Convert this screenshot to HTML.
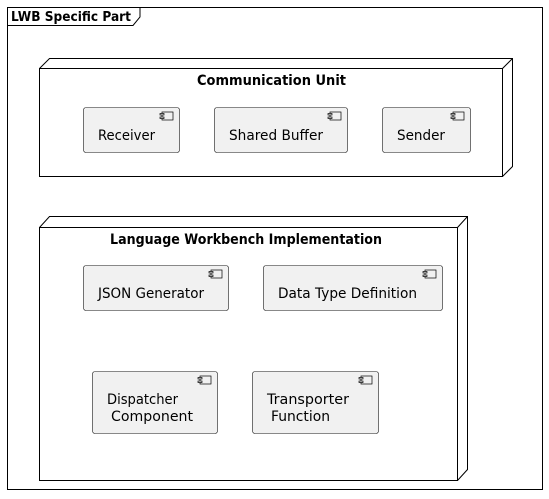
<!DOCTYPE html>
<html><head><style>body{margin:0;background:#fff}</style></head><body>
<svg width="549" height="494" xmlns="http://www.w3.org/2000/svg" font-family="'DejaVu Sans','Liberation Sans',sans-serif">
<defs>
<g id="ic"><rect x="0" y="0" width="11" height="8" fill="#f1f1f1" stroke="#000" stroke-width="0.7"/><rect x="-2" y="1.5" width="4" height="1.5" fill="#f1f1f1" stroke="#000" stroke-width="0.7"/><rect x="-2" y="5" width="4" height="1.5" fill="#f1f1f1" stroke="#000" stroke-width="0.7"/></g>
</defs>
<rect x="7.5" y="7.5" width="535" height="482" fill="none" stroke="#000" stroke-width="1"/>
<path d="M7.5 25.5 H133 L140 17 V7.5" fill="none" stroke="#000"/>
<text x="11" y="21" font-size="13" font-weight="bold" textLength="120" lengthAdjust="spacingAndGlyphs">LWB Specific Part</text>

<path d="M39.5 68.5 L49.5 58.5 H512.5 V166.5 L502.5 176.5 M502.5 68.5 L512.5 58.5" fill="#fff" stroke="#000"/>
<rect x="39.5" y="68.5" width="463" height="108" fill="#fff" stroke="#000"/>
<text x="197" y="85" font-size="14" font-weight="bold" textLength="149" lengthAdjust="spacingAndGlyphs">Communication Unit</text>

<path d="M39.5 227.5 L49.5 216.5 H467.5 V469.5 L457.5 480.5 M457.5 227.5 L467.5 216.5" fill="#fff" stroke="#000"/>
<rect x="39.5" y="227.5" width="418" height="253" fill="#fff" stroke="#000"/>
<text x="110" y="244" font-size="14" font-weight="bold" textLength="272" lengthAdjust="spacingAndGlyphs">Language Workbench Implementation</text>

<g stroke="#181818" stroke-width="0.6" fill="#f1f1f1">
<rect x="83.5" y="107.5" width="96" height="45" rx="2.5"/>
<rect x="214.5" y="107.5" width="133" height="45" rx="2.5"/>
<rect x="382.5" y="107.5" width="88" height="45" rx="2.5"/>
<rect x="83.5" y="265.5" width="145" height="45" rx="2.5"/>
<rect x="263.5" y="265.5" width="179" height="45" rx="2.5"/>
<rect x="92.5" y="371.5" width="125" height="62" rx="2.5"/>
<rect x="252.5" y="371.5" width="126" height="62" rx="2.5"/>
</g>
<use href="#ic" x="162" y="112"/>
<use href="#ic" x="330" y="112"/>
<use href="#ic" x="453" y="112"/>
<use href="#ic" x="211" y="270"/>
<use href="#ic" x="425" y="270"/>
<use href="#ic" x="200" y="376"/>
<use href="#ic" x="361" y="376"/>
<g font-size="14" fill="#000" lengthAdjust="spacingAndGlyphs">
<text x="98" y="140" textLength="57" lengthAdjust="spacingAndGlyphs">Receiver</text>
<text x="229" y="140" textLength="94" lengthAdjust="spacingAndGlyphs">Shared Buffer</text>
<text x="397" y="140" textLength="48" lengthAdjust="spacingAndGlyphs">Sender</text>
<text x="98" y="298" textLength="106" lengthAdjust="spacingAndGlyphs">JSON Generator</text>
<text x="278" y="298" textLength="139" lengthAdjust="spacingAndGlyphs">Data Type Definition</text>
<text x="107" y="404" textLength="71" lengthAdjust="spacingAndGlyphs">Dispatcher</text>
<text x="111" y="421" textLength="82" lengthAdjust="spacingAndGlyphs">Component</text>
<text x="267" y="404" textLength="82" lengthAdjust="spacingAndGlyphs">Transporter</text>
<text x="271" y="421" textLength="59" lengthAdjust="spacingAndGlyphs">Function</text>
</g>
</svg>
</body></html>
